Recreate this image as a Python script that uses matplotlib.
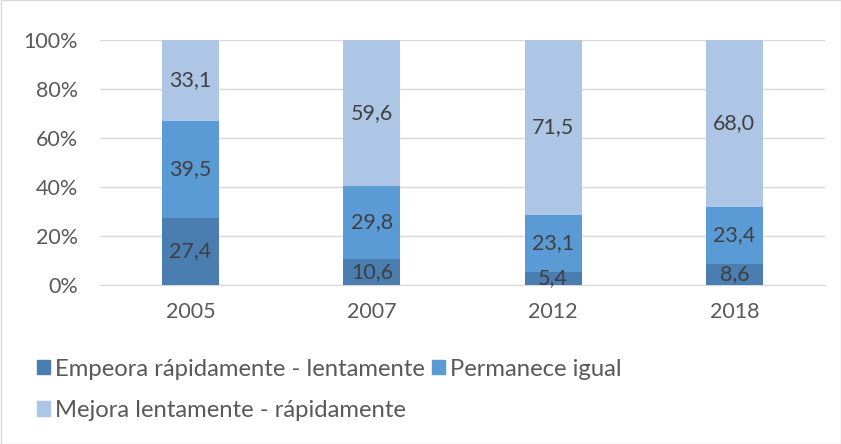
import matplotlib
matplotlib.use("Agg")
import matplotlib.pyplot as plt
from matplotlib.patches import Patch, Rectangle

plt.rcParams['font.family'] = ['Lato', 'DejaVu Sans']

years = ["2005", "2007", "2012", "2018"]
empeora = [27.4, 10.6, 5.4, 8.6]
permanece = [39.5, 29.8, 23.1, 23.4]
mejora = [33.1, 59.6, 71.5, 68.0]
series_names = ["Empeora rápidamente - lentamente", "Permanece igual", "Mejora lentamente - rápidamente"]
colors = ["#4a7db0", "#5b9bd5", "#adc6e6"]

FS = 15.5
LFS = 17.2
fig = plt.figure(figsize=(8.41, 4.44), dpi=100)
ax = fig.add_axes([100/841, 1-285/444, 725/841, 245/444])

x = list(range(len(years)))
w = 0.315
bottom = [0]*len(years)
for vals, c in zip([empeora, permanece, mejora], colors):
    ax.bar(x, vals, w, bottom=bottom, color=c, zorder=3)
    for xi, v, b in zip(x, vals, bottom):
        ax.text(xi, b + v/2, f"{v:.1f}".replace(".", ","), ha="center", va="center",
                fontsize=FS, color="#404040", zorder=4)
    bottom = [b + v for b, v in zip(bottom, vals)]

ax.set_xlim(-0.5, 3.5)
ax.set_ylim(0, 100)
ax.set_yticks([0, 20, 40, 60, 80, 100])
ax.set_yticklabels([f"{t}%" for t in [0, 20, 40, 60, 80, 100]])
ax.set_xticks(x)
ax.set_xticklabels(years)
ax.tick_params(axis='both', length=0, labelsize=FS, colors="#595959")
ax.tick_params(axis='y', pad=16)
ax.tick_params(axis='x', pad=12)
ax.grid(axis='y', color="#d9d9d9", linewidth=1, zorder=0)
for s in ["top", "right", "left"]:
    ax.spines[s].set_visible(False)
ax.spines["bottom"].set_color("#d9d9d9")

handles = [Patch(color=c) for c in colors]
order = [0, 2, 1]
leg = fig.legend([handles[i] for i in order], [series_names[i] for i in order],
                 loc="upper left", bbox_to_anchor=(27/841, 1-349/444), ncol=2,
                 frameon=False, fontsize=LFS, handlelength=0.56, handleheight=0.56,
                 handletextpad=0.2, columnspacing=0.3, labelspacing=0.85, borderaxespad=0)
for t in leg.get_texts():
    t.set_color("#595959")

fig.patches.append(Rectangle((0.5/841, 0.5/444), 1-1/841, 1-1/444, transform=fig.transFigure,
                             fill=False, edgecolor="#d9d9d9", linewidth=1))
fig.savefig("out.png", dpi=100)
